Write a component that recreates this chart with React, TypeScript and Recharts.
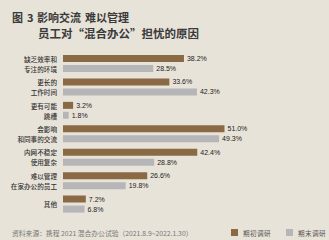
import React from 'react';
import { BarChart, Bar, XAxis, YAxis, LabelList } from 'recharts';

const categories = [
  '缺乏效率和\n专注的环境',
  '更长的\n工作时间',
  '更有可能\n跳槽',
  '会影响\n和同事的交流',
  '内网不稳定\n使用复杂',
  '难以管理\n在家办公的员工',
  '其他',
];
const initialSurvey = [38.2, 33.6, 3.2, 51.0, 42.4, 26.6, 7.2];
const finalSurvey = [28.5, 42.3, 1.8, 49.3, 28.8, 19.8, 6.8];
const seriesNames = ['期初调研', '期末调研'];

const data = categories.map((name, i) => ({
  name,
  initial: initialSurvey[i],
  final: finalSurvey[i],
}));

const BG = '#e8e3d9';
const BROWN = '#8a6a44';
const GRAY = '#b6b5b7';
const CJK = '"Noto Sans CJK SC", sans-serif';

const CategoryTick = (props: any) => {
  const { x, y, payload } = props;
  const lines: string[] = String(payload.value).split('\n');
  return (
    <g>
      {lines.map((l, i) => (
        <text
          key={i}
          x={x}
          y={lines.length === 1 ? y : y + (i === 0 ? -5 : 5)}
          textAnchor="end"
          dominantBaseline="central"
          fontSize={6.6}
          fontFamily={CJK}
          fontWeight={500}
          fill="#333"
        >
          {l}
        </text>
      ))}
    </g>
  );
};

const fmt = (v: any) => `${Number(v).toFixed(1)}%`;

const titleStyle: React.CSSProperties = {
  position: 'absolute',
  fontSize: 11,
  fontWeight: 700,
  color: '#3a3a3a',
  lineHeight: '12px',
  whiteSpace: 'pre',
};

export default function App() {
  return (
    <div
      style={{
        position: 'absolute',
        left: 0,
        top: 0,
        width: 329,
        height: 240,
        background: BG,
        fontFamily: CJK,
        overflow: 'hidden',
      }}
    >
      <div style={{ ...titleStyle, left: 12, top: 11 }}>图</div>
      <div style={{ ...titleStyle, left: 27, top: 11 }}>3</div>
      <div style={{ ...titleStyle, left: 37, top: 11 }}>影响交流</div>
      <div style={{ ...titleStyle, left: 85, top: 11 }}>难以管理</div>
      <div style={{ ...titleStyle, left: 38, top: 27, fontSize: 11.5 }}>员工对“混合办公”担忧的原因</div>

      <div style={{ position: 'absolute', left: 0, top: 0 }}>
        <BarChart
          width={329}
          height={240}
          data={data}
          layout="vertical"
          margin={{ top: 52, right: 76, bottom: 24, left: 0 }}
          barSize={7}
          barGap={3}
        >
          <XAxis type="number" domain={[0, 60]} hide />
          <YAxis
            type="category"
            dataKey="name"
            width={63}
            axisLine={false}
            tickLine={false}
            tickSize={0}
            tickMargin={6}
            tick={<CategoryTick />}
            interval={0}
          />
          <Bar dataKey="initial" name={seriesNames[0]} fill={BROWN} isAnimationActive={false}>
            <LabelList
              dataKey="initial"
              position="right"
              offset={3}
              formatter={fmt}
              style={{ fontSize: 7, fill: '#222', fontFamily: '"Liberation Sans Narrow", "Liberation Sans", sans-serif' }}
            />
          </Bar>
          <Bar dataKey="final" name={seriesNames[1]} fill={GRAY} isAnimationActive={false}>
            <LabelList
              dataKey="final"
              position="right"
              offset={3}
              formatter={fmt}
              style={{ fontSize: 7, fill: '#222', fontFamily: '"Liberation Sans Narrow", "Liberation Sans", sans-serif' }}
            />
          </Bar>
        </BarChart>
      </div>

      <div style={{ position: 'absolute', left: 12, top: 228, fontSize: 6.8, color: '#777', lineHeight: '10px', whiteSpace: 'pre' }}>
        资料来源：携程 2021 混合办公试验（2021.8.9~2022.1.30）
      </div>
      <div style={{ position: 'absolute', left: 231, top: 229, width: 7, height: 7, background: BROWN }} />
      <div style={{ position: 'absolute', left: 243, top: 228, fontSize: 6.6, color: '#555', lineHeight: '10px', letterSpacing: 0.4, whiteSpace: 'pre' }}>{seriesNames[0]}</div>
      <div style={{ position: 'absolute', left: 286, top: 229, width: 7, height: 7, background: GRAY }} />
      <div style={{ position: 'absolute', left: 298, top: 228, fontSize: 6.6, color: '#555', lineHeight: '10px', letterSpacing: 0.4, whiteSpace: 'pre' }}>{seriesNames[1]}</div>
    </div>
  );
}
